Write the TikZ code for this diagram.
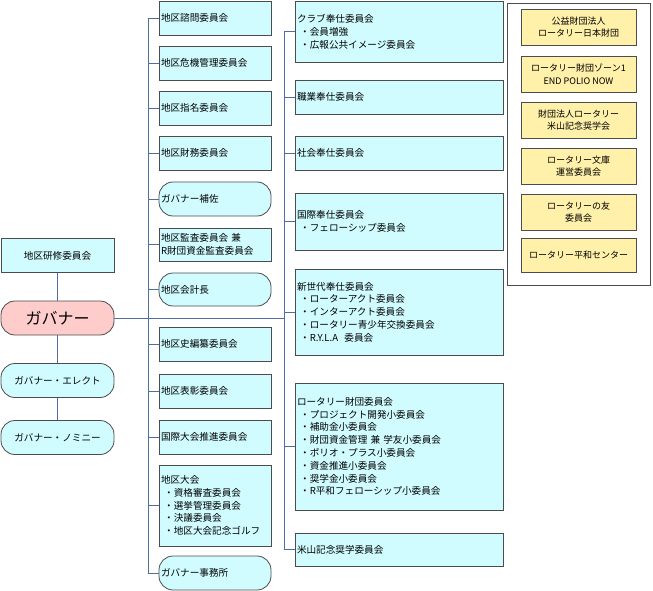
\documentclass[tikz,border=0pt]{standalone}
\usepackage{fontspec}
\setmainfont{Noto Sans CJK JP}
\definecolor{cy}{RGB}{208,252,255}
\definecolor{yl}{RGB}{255,240,170}
\definecolor{pk}{RGB}{255,204,204}
\definecolor{spc}{RGB}{80,110,160}
\begin{document}
\begin{tikzpicture}[x=1pt,y=-1pt,
 bx/.style={draw=black!70,fill=cy,line width=0.8pt,inner xsep=2pt,inner ysep=1pt,font=\fontsize{9.6}{12.8}\selectfont},
 c2/.style={bx,minimum width=112pt,text width=108pt,align=left},
 c3/.style={bx,minimum width=208pt,text width=204pt,align=left},
 rd/.style={rounded corners=14pt},
 lf/.style={bx,minimum width=113pt,minimum height=34pt,align=center},
 yb/.style={draw=black!70,fill=yl,line width=0.8pt,minimum width=115pt,minimum height=36pt,align=center,font=\fontsize{9}{12.5}\selectfont},
 sp/.style={draw=spc,line width=0.9pt}]
\useasboundingbox (0,0) rectangle (653,591);
% left
\node[lf] (ken) at (57.5,255.5) {地区研修委員会};
\node[lf,rd,fill=pk,minimum height=34pt,font=\fontsize{16}{18}\selectfont] (gov) at (57.5,318) {ガバナー};
\node[lf,rd] (ele) at (57.5,380.5) {ガバナー・エレクト};
\node[lf,rd] (nom) at (57.5,437.5) {ガバナー・ノミニー};
\draw[sp] (ken) -- (gov); \draw[sp] (gov) -- (ele); \draw[sp] (ele) -- (nom);
% spines
\coordinate (s2t) at (148,18); \coordinate (s2b) at (148,573);
\coordinate (s3t) at (284,31); \coordinate (s3b) at (284,550);
\coordinate (s3g) at (284,318);
\draw[sp] (s2t) -- (s2b); \draw[sp] (s3t) -- (s3b);
\draw[sp] (gov) -- (s3g);
\foreach \n/\y/\h/\r/\t in {a/18/34//地区諮問委員会, b/63/34//地区危機管理委員会, c/108/34//地区指名委員会, d/153/34//地区財務委員会, e/199/34/rd/ガバナー補佐, f/244.5/33//{地区監査委員会 兼\\R財団資金監査委員会}, g/289.5/33/rd/地区会計長, h/344/34//地区史編纂委員会, i/391/34//地区表彰委員会, j/437/34//国際大会推進委員会, k/505.5/81//{地区大会\\\ ・資格審査委員会\\\ ・選挙管理委員会\\\ ・決議委員会\\\ ・地区大会記念ゴルフ}, l/573/34/rd/ガバナー事務所}{
 \node[c2,minimum height=\h pt,\r] (m\n) at (215,\y) {\t};
 \coordinate (t\n) at (148,\y);
 \draw[sp] (t\n) -- (m\n);
}
\foreach \n/\y/\h/\t in {a/31.5/61/{クラブ奉仕委員会\\\ ・会員増強\\\ ・広報公共イメージ委員会}, b/97/34/職業奉仕委員会, c/153/34/社会奉仕委員会, d/221.5/57/{国際奉仕委員会\\\ ・フェローシップ委員会}, e/312/86/{新世代奉仕委員会\\\ ・ローターアクト委員会\\\ ・インターアクト委員会\\\ ・ロータリー青少年交換委員会\\\ ・R.Y.L.A\ \ 委員会}, f/446.5/127/{ロータリー財団委員会\\\ ・プロジェクト開発小委員会\\\ ・補助金小委員会\\\ ・財団資金管理\ 兼\ 学友小委員会\\\ ・ポリオ・プラス小委員会\\\ ・資金推進小委員会\\\ ・奨学金小委員会\\\ ・R平和フェローシップ小委員会}, g/549.5/33/米山記念奨学委員会}{
 \node[c3,minimum height=\h pt] (n\n) at (399,\y) {\t};
 \coordinate (u\n) at (284,\y);
 \draw[sp] (u\n) -- (n\n);
}
% right panel
\node[draw=black!70,line width=0.8pt,minimum width=143pt,minimum height=282pt] (panel) at (578.5,144) {};
\foreach \n/\y/\t in {a/27/{公益財団法人\\ロータリー日本財団}, b/74/{ロータリー財団ゾーン1\\END POLIO NOW}, c/120/{財団法人ロータリー\\米山記念奨学会}, d/166/{ロータリー文庫\\運営委員会}, e/212/{ロータリーの友\\委員会}}{
 \node[yb] (r\n) at (578.5,\y) {\t};
}
\node[yb,minimum height=34pt] (rf) at (578.5,255) {ロータリー平和センター};
\end{tikzpicture}
\end{document}
